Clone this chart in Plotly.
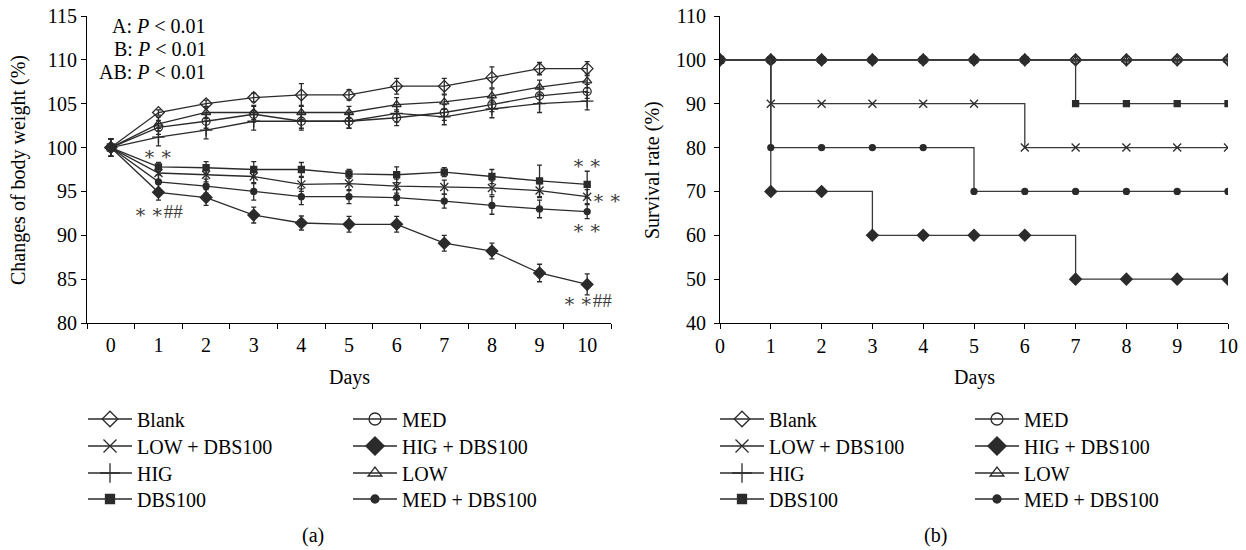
import plotly.graph_objects as go

# ---------------- data ----------------
days = [0, 1, 2, 3, 4, 5, 6, 7, 8, 9, 10]
day_labels = ["0", "1", "2", "3", "4", "5", "6", "7", "8", "9", "10"]

# (a) changes of body weight (%)
blank = [100, 104.0, 105.0, 105.7, 106.0, 106.0, 107.0, 107.0, 108.0, 109.0, 109.0]
blank_err = [1.0, 0.3, 0.4, 0.5, 1.3, 0.6, 0.9, 0.9, 1.2, 0.7, 0.8]
med = [100, 102.3, 103.0, 103.8, 103.0, 103.0, 103.4, 104.0, 104.9, 105.9, 106.4]
med_err = [1.0, 0.8, 0.8, 0.9, 0.8, 0.8, 0.9, 0.9, 0.8, 0.8, 0.8]
low = [100, 102.7, 104.0, 104.0, 104.0, 104.0, 104.9, 105.2, 105.9, 106.9, 107.6]
low_err = [1.0, 0.8, 0.7, 0.8, 0.8, 0.7, 0.8, 0.8, 0.8, 0.8, 0.8]
hig = [100, 101.2, 102.0, 103.0, 103.0, 103.0, 103.9, 103.5, 104.4, 105.0, 105.3]
hig_err = [1.0, 1.0, 1.0, 1.0, 1.0, 0.8, 1.0, 0.9, 1.0, 1.0, 1.0]
dbs100 = [100, 97.8, 97.7, 97.5, 97.5, 97.0, 96.9, 97.2, 96.7, 96.2, 95.8]
dbs100_err = [1.0, 0.5, 0.7, 0.9, 0.8, 0.5, 0.9, 0.5, 0.8, 1.8, 1.5]
low_dbs = [100, 97.1, 96.9, 96.7, 95.8, 95.9, 95.6, 95.5, 95.4, 95.1, 94.4]
low_dbs_err = [1.0, 0.8, 0.8, 0.8, 0.8, 0.8, 0.8, 0.8, 0.8, 0.8, 0.8]
med_dbs = [100, 96.1, 95.6, 95.0, 94.4, 94.4, 94.3, 93.9, 93.4, 93.0, 92.7]
med_dbs_err = [1.0, 0.8, 0.8, 1.0, 0.9, 0.8, 0.9, 0.8, 1.0, 1.0, 0.8]
hig_dbs = [100, 94.9, 94.3, 92.3, 91.4, 91.25, 91.25, 89.1, 88.2, 85.7, 84.4]
hig_dbs_err = [1.0, 0.9, 0.9, 0.9, 0.8, 0.9, 0.9, 0.9, 0.9, 1.0, 1.2]

# (b) survival rate (%)
surv_blank = [100, 100, 100, 100, 100, 100, 100, 100, 100, 100, 100]
surv_med = [100, 100, 100, 100, 100, 100, 100, 100, 100, 100, 100]
surv_hig = [100, 100, 100, 100, 100, 100, 100, 100, 100, 100, 100]
surv_low = [100, 100, 100, 100, 100, 100, 100, 100, 100, 100, 100]
surv_dbs100 = [100, 100, 100, 100, 100, 100, 100, 90, 90, 90, 90]
surv_low_dbs = [100, 90, 90, 90, 90, 90, 80, 80, 80, 80, 80]
surv_med_dbs = [100, 80, 80, 80, 80, 70, 70, 70, 70, 70, 70]
surv_hig_dbs = [100, 70, 70, 60, 60, 60, 60, 50, 50, 50, 50]

# legend order (row-major, two columns)
legend_names = ["Blank", "MED", "LOW + DBS100", "HIG + DBS100",
                "HIG", "LOW", "DBS100", "MED + DBS100"]

# ---------------- styles ----------------
W, H = 1246, 550
FONT = "Liberation Serif"
LC = "#2b2b2b"
sym = {
    "Blank": ("diamond-open", 9, 12),
    "MED": ("circle-open", 8, 12),
    "LOW + DBS100": ("x-thin-open", 8, 13),
    "HIG + DBS100": ("diamond", 9, 14),
    "HIG": ("cross-thin-open", 9, 14),
    "LOW": ("triangle-up-open", 8, 12),
    "DBS100": ("square", 6, 9),
    "MED + DBS100": ("circle", 6, 8),
}
series_a = {
    "Blank": (blank, blank_err), "MED": (med, med_err),
    "LOW + DBS100": (low_dbs, low_dbs_err), "HIG + DBS100": (hig_dbs, hig_dbs_err),
    "HIG": (hig, hig_err), "LOW": (low, low_err),
    "DBS100": (dbs100, dbs100_err), "MED + DBS100": (med_dbs, med_dbs_err),
}
series_b = {
    "Blank": surv_blank, "MED": surv_med, "LOW + DBS100": surv_low_dbs,
    "HIG + DBS100": surv_hig_dbs, "HIG": surv_hig, "LOW": surv_low,
    "DBS100": surv_dbs100, "MED + DBS100": surv_med_dbs,
}

fig = go.Figure()

def mk(name, size):
    s = sym[name][0]
    return dict(symbol=s, size=size, color=LC,
                line=dict(color=LC, width=1.3))

# panel (a)
for name in legend_names:
    y, e = series_a[name]
    fig.add_trace(go.Scatter(
        x=days, y=y, mode="lines+markers", name=name, showlegend=False,
        line=dict(color=LC, width=1.3), marker=mk(name, sym[name][1]),
        error_y=dict(type="data", array=e, visible=True, color=LC,
                     thickness=1.3, width=2.5),
        xaxis="x", yaxis="y"))

# panel (b)
for name in legend_names:
    fig.add_trace(go.Scatter(
        x=days, y=series_b[name], mode="lines+markers", name=name,
        showlegend=False, line=dict(color="#3a3a3a", width=1.3, shape="hv"),
        marker=mk(name, sym[name][1]), xaxis="x2", yaxis="y2"))

# legends (one per entry, two panels)
row_y = [419, 446, 473, 499]
col_x_a = [83, 348]
col_x_b = [715, 970]
li = 0
for panel, colx in (("a", col_x_a), ("b", col_x_b)):
    for k, name in enumerate(legend_names):
        li += 1
        key = "legend" if li == 1 else f"legend{li}"
        fig.add_trace(go.Scatter(
            x=[None], y=[None], mode="lines+markers", name=name,
            legend=key, showlegend=True,
            line=dict(color=LC, width=1.3),
            marker=mk(name, sym[name][2]),
            xaxis="x" if panel == "a" else "x2",
            yaxis="y" if panel == "a" else "y2"))
        r, c = divmod(k, 2)
        fig.layout[key] = dict(
            x=colx[c] / W, y=1 - row_y[r] / H, xanchor="left", yanchor="middle",
            bgcolor="rgba(0,0,0,0)", borderwidth=0,
            font=dict(family=FONT, size=20, color="black"),
            itemwidth=44, tracegroupgap=0)

axis_common = dict(showline=True, linecolor="black", linewidth=1.2,
                   showgrid=False, zeroline=False,
                   tickfont=dict(family=FONT, size=20, color="black"),
                   tickcolor="black", tickwidth=1.2)

fig.update_layout(
    width=W, height=H,
    margin=dict(l=0, r=0, t=0, b=0, autoexpand=False),
    paper_bgcolor="white", plot_bgcolor="white",
    font=dict(family=FONT, size=20, color="black"),
    xaxis=dict(domain=[87 / W, 611 / W], range=[-0.5, 10.5],
               tickmode="array", tickvals=days, ticktext=day_labels,
               ticks="", ticklabelstandoff=4,
               minor=dict(ticks="outside", ticklen=5, tickcolor="black",
                          tickwidth=1.2, tickmode="linear", tick0=0.5, dtick=1),
               anchor="y", **axis_common),
    yaxis=dict(domain=[1 - 323 / H, 1 - 16 / H], range=[80, 115],
               tickmode="linear", tick0=80, dtick=5,
               ticks="outside", ticklen=5, anchor="x", **axis_common),
    xaxis2=dict(domain=[720 / W, 1228 / W], range=[0, 10],
                tickmode="array", tickvals=days, ticktext=day_labels,
                ticks="outside", ticklen=5, ticklabelstandoff=0,
                anchor="y2", **axis_common),
    yaxis2=dict(domain=[1 - 323 / H, 1 - 16 / H], range=[40, 110],
                tickmode="linear", tick0=40, dtick=10,
                ticks="outside", ticklen=5, ticklabelstandoff=4,
                anchor="x2", **axis_common),
)

ann = []
def pap(text, px, py, angle=0):
    return dict(text=text, x=px / W, y=1 - py / H, xref="paper", yref="paper",
                xanchor="center", yanchor="middle", textangle=angle,
                showarrow=False, font=dict(family=FONT, size=20, color="black"))

ann.append(pap("Changes of body weight (%)", 18, 170, -90))
ann.append(pap("Survival rate (%)", 652, 170, -90))
ann.append(pap("Days", 349, 377))
ann.append(pap("Days", 974, 377))
ann.append(pap("(a)", 313, 535))
ann.append(pap("(b)", 935, 535))

# statistics text in panel (a)
for txt, yy in (("A: <i>P</i> &lt; 0.01", 113.9), ("B: <i>P</i> &lt; 0.01", 111.25),
                ("AB: <i>P</i> &lt; 0.01", 108.6)):
    ann.append(dict(text=txt, x=2.04, y=yy, xref="x", yref="y", xanchor="right",
                    yanchor="middle", showarrow=False,
                    font=dict(family=FONT, size=20, color="black")))

STAR = "\u2217\u2009\u2217"
HASH = "<span style='font-family:Liberation Serif;font-size:19px'>##</span>"
SC = "#3c3c3c"
marks = [
    (STAR, 1, 99.4, "center", 0),
    (STAR + HASH, 1, 92.8, "center", 0),
    (STAR, 10, 98.3, "center", 0),
    (STAR, 10, 94.35, "left", 3),
    (STAR, 10, 90.9, "center", 0),
    (STAR + HASH, 10, 82.6, "center", 0),
]
for t, xx, yy, xa, xs in marks:
    ann.append(dict(text=t, x=xx, y=yy, xref="x", yref="y", xanchor=xa,
                    yanchor="middle", xshift=xs, showarrow=False,
                    font=dict(family="DejaVu Serif", size=19, color=SC)))

fig.update_layout(annotations=ann)
fig.write_html("out.html", config={"displayModeBar": False},
               post_script="document.body.style.margin='0';"
                           "document.body.style.padding='0';")
